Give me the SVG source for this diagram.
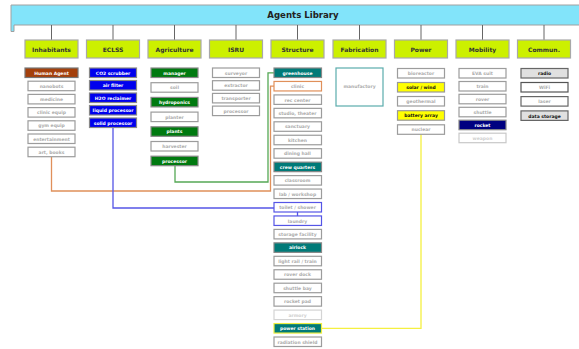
<svg xmlns="http://www.w3.org/2000/svg" width="579" height="349" viewBox="0 0 579 349">
<style>
text{font-family:"DejaVu Sans","Liberation Sans",sans-serif;font-weight:bold;text-anchor:middle}
.cat rect{fill:#ccf000;stroke:#a8a8a8;stroke-width:1.2}
.cat text{font-size:6px;fill:#333}
.it rect{fill:#fff;stroke:#9c9c9c;stroke-width:1.2}
.it text{font-size:4.5px;fill:#adadad}
.it.hl text{fill:#fff}
.it.dk text{fill:#111}
.tree{stroke:#666;stroke-width:1;fill:none}
.conn path{fill:none;stroke-width:1.3}
</style>
<rect width="579" height="349" fill="#fff"/>
<g id="title">
<path d="M11,5 H580 V25 H14 V31.5 H11 Z" fill="#82e4fa" stroke="#a0a0a0" stroke-width="1"/>
<text x="303" y="18" style="font-size:8.6px;fill:#222">Agents Library</text>
</g>
<g id="tree" class="tree">
<path d="M51.5,25V40M113,25V40M174.5,25V40M236,25V40M297.5,25V40M359.5,25V40M421,25V40M482.5,25V40M544,25V40"/>
</g>
<g id="categories">
<g id="cat-inhabitants" class="cat"><rect x="25" y="40" width="53" height="18"/><text x="51.5" y="51.5">Inhabitants</text></g>
<g id="cat-eclss" class="cat"><rect x="86.5" y="40" width="53" height="18"/><text x="113" y="51.5">ECLSS</text></g>
<g id="cat-agriculture" class="cat"><rect x="148" y="40" width="53" height="18"/><text x="174.5" y="51.5">Agriculture</text></g>
<g id="cat-isru" class="cat"><rect x="209.5" y="40" width="53" height="18"/><text x="236" y="51.5">ISRU</text></g>
<g id="cat-structure" class="cat"><rect x="271" y="40" width="53" height="18"/><text x="297.5" y="51.5">Structure</text></g>
<g id="cat-fabrication" class="cat"><rect x="333" y="40" width="53" height="18"/><text x="359.5" y="51.5">Fabrication</text></g>
<g id="cat-power" class="cat"><rect x="394.5" y="40" width="53" height="18"/><text x="421" y="51.5">Power</text></g>
<g id="cat-mobility" class="cat"><rect x="456" y="40" width="53" height="18"/><text x="482.5" y="51.5">Mobility</text></g>
<g id="cat-commun" class="cat"><rect x="517.5" y="40" width="53" height="18"/><text x="544" y="51.5">Commun.</text></g>
</g>
<g id="connectors" class="conn">
<path d="M51.5,156.7V191H270.5V86.2H274" stroke="#e0905a"/>
<path d="M175,165.7V182H268V72.8H274" stroke="#55a855"/>
<path d="M113,127.5V208H274" stroke="#5555e6"/>
<path d="M297.5,212V216" stroke="#5555e6"/>
<path d="M421,134.3V328.3H321.5" stroke="#f5f040"/>
</g>
<g id="inhabitants">
<g id="human-agent" class="it hl"><rect x="25" y="68" width="53" height="9.5" style="fill:#a4400c;stroke:#777"/><text x="51.5" y="74.6">Human Agent</text></g>
<g id="nanobots" class="it"><rect x="28" y="81.2" width="47" height="9.5"/><text x="51.5" y="87.8">nanobots</text></g>
<g id="medicine" class="it"><rect x="28" y="94.4" width="47" height="9.5"/><text x="51.5" y="101">medicine</text></g>
<g id="clinic-equip" class="it"><rect x="28" y="107.6" width="47" height="9.5"/><text x="51.5" y="114.2">clinic equip</text></g>
<g id="gym-equip" class="it"><rect x="28" y="120.8" width="47" height="9.5"/><text x="51.5" y="127.4">gym equip</text></g>
<g id="entertainment" class="it"><rect x="28" y="134" width="47" height="9.5"/><text x="51.5" y="140.6">entertainment</text></g>
<g id="art-books" class="it"><rect x="28" y="147.2" width="47" height="9.5"/><text x="51.5" y="153.8">art, books</text></g>
</g>
<g id="eclss">
<g id="co2-scrubber" class="it hl"><rect x="89.5" y="68" width="47" height="9.5" style="fill:#0000ee;stroke:#888"/><text x="113" y="74.6">CO2 scrubber</text></g>
<g id="air-filter" class="it hl"><rect x="89.5" y="80.5" width="47" height="9.5" style="fill:#0000ee;stroke:#888"/><text x="113" y="87.1">air filter</text></g>
<g id="h2o-reclaimer" class="it hl"><rect x="89.5" y="93" width="47" height="9.5" style="fill:#0000ee;stroke:#888"/><text x="113" y="99.6">H2O reclaimer</text></g>
<g id="liquid-processor" class="it hl"><rect x="89.5" y="105.5" width="47" height="9.5" style="fill:#0000ee;stroke:#888"/><text x="113" y="112.1">liquid processor</text></g>
<g id="solid-processor" class="it hl"><rect x="89.5" y="118" width="47" height="9.5" style="fill:#0000ee;stroke:#888"/><text x="113" y="124.6">solid processor</text></g>
</g>
<g id="agriculture">
<g id="manager" class="it hl"><rect x="151" y="68" width="47" height="9.5" style="fill:#007a10;stroke:#888"/><text x="174.5" y="74.6">manager</text></g>
<g id="soil" class="it"><rect x="151" y="82.7" width="47" height="9.5"/><text x="174.5" y="89.3">soil</text></g>
<g id="hydroponics" class="it hl"><rect x="151" y="97.4" width="47" height="9.5" style="fill:#007a10;stroke:#888"/><text x="174.5" y="104">hydroponics</text></g>
<g id="planter" class="it"><rect x="151" y="112.1" width="47" height="9.5"/><text x="174.5" y="118.7">planter</text></g>
<g id="plants" class="it hl"><rect x="151" y="126.8" width="47" height="9.5" style="fill:#007a10;stroke:#888"/><text x="174.5" y="133.4">plants</text></g>
<g id="harvester" class="it"><rect x="151" y="141.5" width="47" height="9.5"/><text x="174.5" y="148.1">harvester</text></g>
<g id="agri-processor" class="it hl"><rect x="151" y="156.2" width="47" height="9.5" style="fill:#007a10;stroke:#888"/><text x="174.5" y="162.8">processor</text></g>
</g>
<g id="isru">
<g id="surveyor" class="it"><rect x="212.5" y="68" width="47" height="9.5"/><text x="236" y="74.6">surveyor</text></g>
<g id="extractor" class="it"><rect x="212.5" y="80.7" width="47" height="9.5"/><text x="236" y="87.3">extractor</text></g>
<g id="transporter" class="it"><rect x="212.5" y="93.4" width="47" height="9.5"/><text x="236" y="100">transporter</text></g>
<g id="isru-processor" class="it"><rect x="212.5" y="106.1" width="47" height="9.5"/><text x="236" y="112.7">processor</text></g>
</g>
<g id="structure">
<g id="greenhouse" class="it hl"><rect x="274" y="68" width="47.5" height="9.5" style="fill:#007a78;stroke:#888"/><text x="297.5" y="74.6">greenhouse</text></g>
<g id="clinic" class="it"><rect x="274" y="81.45" width="47.5" height="9.5" style="stroke:#e0905a"/><text x="297.5" y="88.05">clinic</text></g>
<g id="rec-center" class="it"><rect x="274" y="94.9" width="47.5" height="9.5"/><text x="297.5" y="101.5">rec center</text></g>
<g id="studio-theater" class="it"><rect x="274" y="108.35" width="47.5" height="9.5"/><text x="297.5" y="114.95">studio, theater</text></g>
<g id="sanctuary" class="it"><rect x="274" y="121.8" width="47.5" height="9.5"/><text x="297.5" y="128.4">sanctuary</text></g>
<g id="kitchen" class="it"><rect x="274" y="135.25" width="47.5" height="9.5"/><text x="297.5" y="141.85">kitchen</text></g>
<g id="dining-hall" class="it"><rect x="274" y="148.7" width="47.5" height="9.5"/><text x="297.5" y="155.3">dining hall</text></g>
<g id="crew-quarters" class="it hl"><rect x="274" y="162.15" width="47.5" height="9.5" style="fill:#007a78;stroke:#888"/><text x="297.5" y="168.75">crew quarters</text></g>
<g id="classroom" class="it"><rect x="274" y="175.6" width="47.5" height="9.5"/><text x="297.5" y="182.2">classroom</text></g>
<g id="lab-workshop" class="it"><rect x="274" y="189.05" width="47.5" height="9.5"/><text x="297.5" y="195.65">lab / workshop</text></g>
<g id="toilet-shower" class="it"><rect x="274" y="202.5" width="47.5" height="9.5" style="stroke:#5555e6"/><text x="297.5" y="209.1">toilet / shower</text></g>
<g id="laundry" class="it"><rect x="274" y="215.95" width="47.5" height="9.5" style="stroke:#5555e6"/><text x="297.5" y="222.55">laundry</text></g>
<g id="storage-facility" class="it"><rect x="274" y="229.4" width="47.5" height="9.5"/><text x="297.5" y="236">storage facility</text></g>
<g id="airlock" class="it hl"><rect x="274" y="242.85" width="47.5" height="9.5" style="fill:#007a78;stroke:#888"/><text x="297.5" y="249.45">airlock</text></g>
<g id="light-rail" class="it"><rect x="274" y="256.3" width="47.5" height="9.5"/><text x="297.5" y="262.9">light rail / train</text></g>
<g id="rover-dock" class="it"><rect x="274" y="269.75" width="47.5" height="9.5"/><text x="297.5" y="276.35">rover dock</text></g>
<g id="shuttle-bay" class="it"><rect x="274" y="283.2" width="47.5" height="9.5"/><text x="297.5" y="289.8">shuttle bay</text></g>
<g id="rocket-pad" class="it"><rect x="274" y="296.65" width="47.5" height="9.5"/><text x="297.5" y="303.25">rocket pad</text></g>
<g id="armory" class="it"><rect x="274" y="310.1" width="47.5" height="9.5" style="stroke:#d4d4d4"/><text x="297.5" y="316.7" style="fill:#d0d0d0">armory</text></g>
<g id="power-station" class="it hl"><rect x="274" y="323.55" width="47.5" height="9.5" style="fill:#007a78;stroke:#eeee40"/><text x="297.5" y="330.15">power station</text></g>
<g id="radiation-shield" class="it"><rect x="274" y="337" width="47.5" height="9.5"/><text x="297.5" y="343.6">radiation shield</text></g>
</g>
<g id="fabrication">
<g id="manufactory" class="it"><rect x="336" y="68" width="47" height="38" style="stroke:#5aacac"/><text x="359.5" y="88">manufactory</text></g>
</g>
<g id="power">
<g id="bioreactor" class="it"><rect x="397.5" y="68.5" width="47" height="9.5"/><text x="421" y="75.1">bioreactor</text></g>
<g id="solar-wind" class="it dk"><rect x="397.5" y="82.5" width="47" height="9.5" style="fill:#ffff00;stroke:#999"/><text x="421" y="89.1">solar / wind</text></g>
<g id="geothermal" class="it"><rect x="397.5" y="96.5" width="47" height="9.5"/><text x="421" y="103.1">geothermal</text></g>
<g id="battery-array" class="it dk"><rect x="397.5" y="110.7" width="47" height="9.5" style="fill:#ffff00;stroke:#999"/><text x="421" y="117.3">battery array</text></g>
<g id="nuclear" class="it"><rect x="397.5" y="124.8" width="47" height="9.5"/><text x="421" y="131.4">nuclear</text></g>
</g>
<g id="mobility">
<g id="eva-suit" class="it"><rect x="459" y="68.5" width="47" height="9.5"/><text x="482.5" y="75.1">EVA suit</text></g>
<g id="train" class="it"><rect x="459" y="81.5" width="47" height="9.5"/><text x="482.5" y="88.1">train</text></g>
<g id="rover" class="it"><rect x="459" y="94.3" width="47" height="9.5"/><text x="482.5" y="100.9">rover</text></g>
<g id="shuttle" class="it"><rect x="459" y="107.3" width="47" height="9.5"/><text x="482.5" y="113.9">shuttle</text></g>
<g id="rocket" class="it hl"><rect x="459" y="120.2" width="47" height="9.5" style="fill:#000080;stroke:#888"/><text x="482.5" y="126.8">rocket</text></g>
<g id="weapon" class="it"><rect x="459" y="133.2" width="47" height="9.5" style="stroke:#c8c8c8"/><text x="482.5" y="139.8" style="fill:#d0d0d0">weapon</text></g>
</g>
<g id="commun">
<g id="radio" class="it dk"><rect x="521" y="68.5" width="47" height="9.5" style="fill:#e0e0e0;stroke:#666"/><text x="544.5" y="75.1">radio</text></g>
<g id="wifi" class="it"><rect x="521" y="82.5" width="47" height="9.5" style="stroke:#555"/><text x="544.5" y="89.1">WiFi</text></g>
<g id="laser" class="it"><rect x="521" y="96.6" width="47" height="9.5" style="stroke:#666"/><text x="544.5" y="103.2">laser</text></g>
<g id="data-storage" class="it dk"><rect x="521" y="110.9" width="47" height="9.5" style="fill:#e0e0e0;stroke:#666"/><text x="544.5" y="117.5">data storage</text></g>
</g>
</svg>
